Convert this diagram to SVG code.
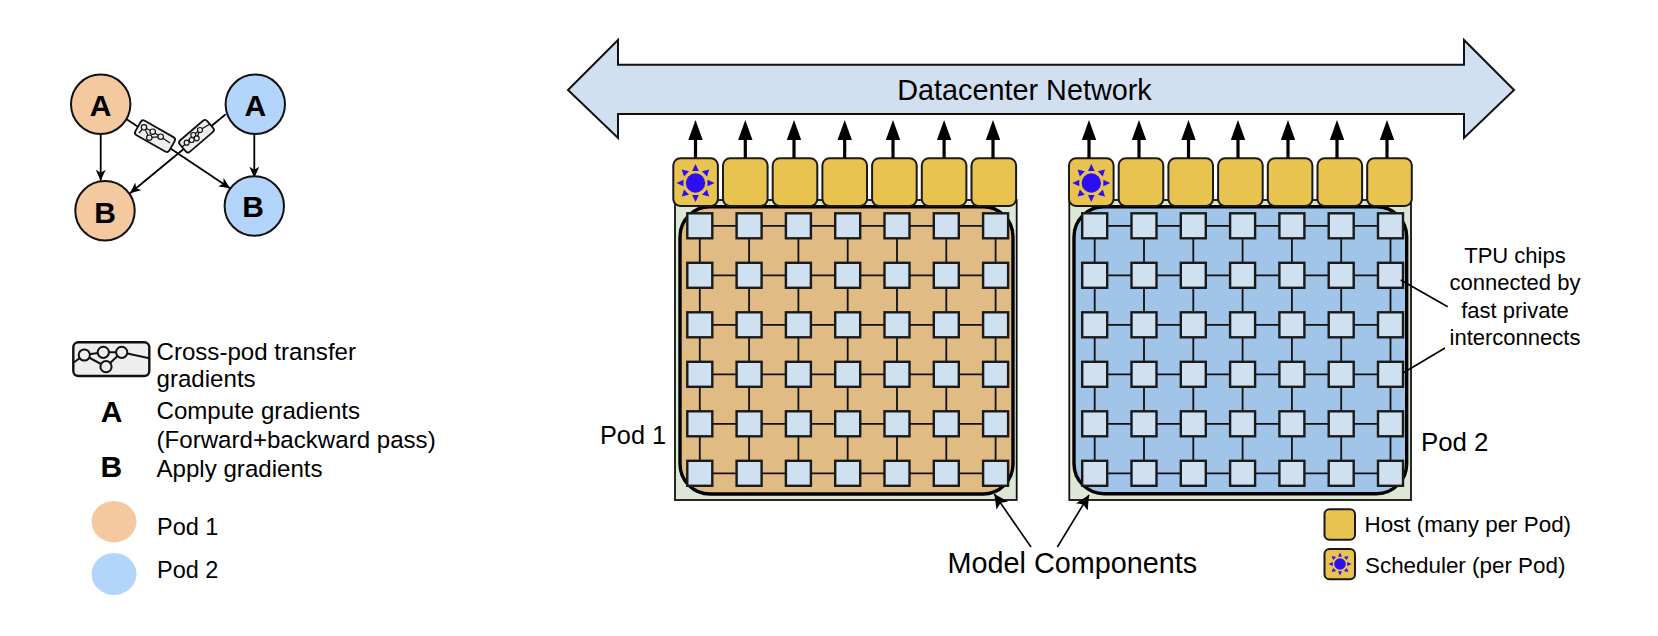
<svg xmlns="http://www.w3.org/2000/svg" width="1658" height="636" viewBox="0 0 1658 636">
<style>
text{font-family:"Liberation Sans",Arial,sans-serif;fill:#000}
.host{fill:#e9c350;stroke:#1a1a1a;stroke-width:2}
.chip{fill:#cfe0f0;stroke:#1a1a1a;stroke-width:2.4}
.lnk{stroke:#111;stroke-width:1.8;fill:none}
.ln{stroke:#000;stroke-width:1.6;fill:none}
.up{stroke:#000;stroke-width:3.2;fill:none}
.nc{stroke:#000;stroke-width:1.8}
.nt{font-weight:bold;font-size:30px;text-anchor:middle}
.lg{font-size:24.1px}
.lgp{font-size:23.5px}
.sun{fill:#2a0ff5}
.pill{fill:#eeeeee;stroke:#111;stroke-width:1.8}
.pl{fill:none;stroke:#111;stroke-width:1.2}
.pc{fill:#eee;stroke:#111;stroke-width:1.2}
.ic{fill:#eee;stroke:#111;stroke-width:2}
.tn{font-size:22px;text-anchor:middle}
.rl{font-size:22.4px}
</style>
<defs>
<marker id="ah" markerUnits="userSpaceOnUse" markerWidth="14" markerHeight="14" refX="11" refY="5" orient="auto"><path d="M0 0L11 5L0 10L3 5Z" fill="#000"/></marker>
<marker id="ahb" markerUnits="userSpaceOnUse" markerWidth="16" markerHeight="16" refX="14" refY="7" orient="auto"><path d="M0 0L14 7L0 14L3 7Z" fill="#000"/></marker>
<g id="sunG">
<circle r="9.7" class="sun"/>
<path class="sun" d="M0-19L3.3-12H-3.3ZM0 19L3.3 12H-3.3ZM-19 0L-12-3.3V3.3ZM19 0L12-3.3V3.3ZM-13.7-13.5L-6.5-11.8L-11.5-6.5ZM13.7-13.5L6.5-11.8L11.5-6.5ZM-13.7 13.5L-6.5 11.8L-11.5 6.5ZM13.7 13.5L6.5 11.8L11.5 6.5Z"/>
</g>
<g id="uparrow"><path d="M0 38V16" class="up"/><path d="M0 0L7.2 20H-7.2Z" fill="#000"/></g>
<rect id="hostbox" width="44.6" height="47.6" rx="7" class="host"/>
<rect id="chipbox" width="25" height="25" class="chip"/>
</defs>

<g id="connectors-left">
<path class="nc" d="M100.7 133V180.7" marker-end="url(#ah)"/>
<path class="nc" d="M254.3 133V177.7" marker-end="url(#ah)"/>
<path class="nc" d="M126.7 119.3L230 188.3" marker-end="url(#ah)"/>
<path class="nc" d="M225.7 114.3L130 193.3" marker-end="url(#ah)"/>
</g>

<g id="node-a1"><circle cx="100.7" cy="104.3" r="29.7" fill="#f5c9a0" stroke="#111" stroke-width="2"/><text class="nt" x="100.7" y="116">A</text></g>
<g id="node-a2"><circle cx="255.3" cy="104.3" r="29.7" fill="#b3d4fb" stroke="#111" stroke-width="2"/><text class="nt" x="255.3" y="116">A</text></g>
<g id="node-b1"><circle cx="105" cy="210.7" r="29.7" fill="#f5c9a0" stroke="#111" stroke-width="2"/><text class="nt" x="105" y="222.5">B</text></g>
<g id="node-b2"><circle cx="254.3" cy="206" r="29.7" fill="#b3d4fb" stroke="#111" stroke-width="2"/><text class="nt" x="253" y="217.3">B</text></g>

<g id="xfer-1">
<rect class="pill" x="-19.5" y="-8.3" width="39" height="16.6" rx="3" transform="translate(155,136.2) rotate(29.6)"/>
<path class="pl" d="M139 133L144 127.3L152.7 131.7L160.7 136.7L170 143M144 127.3L149.3 137.7L160.7 136.7"/>
<circle class="pc" cx="144" cy="127.3" r="2.7"/><circle class="pc" cx="152.7" cy="131.7" r="2.7"/><circle class="pc" cx="160.7" cy="136.7" r="2.7"/><circle class="pc" cx="149.3" cy="137.7" r="2.7"/>
</g>
<g id="xfer-2">
<rect class="pill" x="-18" y="-7.5" width="36" height="15" rx="3" transform="translate(196.5,136.2) rotate(-40.6)"/>
<path class="pl" d="M182 147L186.7 142.7L191.7 140L196.7 138.3L200 130L210 124M186.7 142.7L193.3 135L200 130"/>
<circle class="pc" cx="200" cy="130" r="2.5"/><circle class="pc" cx="193.3" cy="135" r="2.5"/><circle class="pc" cx="196.7" cy="138.3" r="2.5"/><circle class="pc" cx="191.7" cy="140" r="2.5"/><circle class="pc" cx="186.7" cy="142.7" r="2.5"/>
</g>

<g id="legend-left">
<g id="legend-xfer">
<rect x="73.3" y="342.3" width="76" height="33.7" rx="5" fill="#eee" stroke="#111" stroke-width="2.4"/>
<path d="M73.3 362.7L84.3 355L103.3 352.3H121.7L149.3 358.3M84.3 355L106 366.7L121.7 352.3" fill="none" stroke="#111" stroke-width="2"/>
<circle class="ic" cx="84.3" cy="355" r="5.6"/><circle class="ic" cx="103.3" cy="352.3" r="5.6"/><circle class="ic" cx="121.7" cy="352.3" r="5.6"/><circle class="ic" cx="106" cy="366.7" r="5.6"/>
</g>
<text class="lg" x="156.5" y="359.5">Cross-pod transfer</text>
<text class="lg" x="156.5" y="387">gradients</text>
<text class="nt" x="111.5" y="422">A</text>
<text class="lg" x="156.5" y="418.5">Compute gradients</text>
<text class="lg" x="156.5" y="447.7">(Forward+backward pass)</text>
<text class="nt" x="111.3" y="477.3">B</text>
<text class="lg" x="156.5" y="477.3">Apply gradients</text>
<ellipse cx="114" cy="521.7" rx="22.5" ry="20.7" fill="#f5c9a0"/>
<text class="lgp" x="157" y="535">Pod 1</text>
<ellipse cx="114" cy="574" rx="22.5" ry="21" fill="#b3d4fb"/>
<text class="lgp" x="157" y="578.3">Pod 2</text>
</g>

<g id="network">
<path d="M568 90L618 40V64.7H1464V40L1514 90L1464 138V114H618V138Z" fill="#d0e0f0" stroke="#111" stroke-width="2"/>
<text x="1024.5" y="100" font-size="28.8" text-anchor="middle">Datacenter Network</text>
</g>

<g id="pod1">
<rect x="675" y="200" width="341.7" height="300" fill="#dce8d5" stroke="#111" stroke-width="1.8"/>
<rect x="680" y="206.7" width="333" height="287.3" rx="30" fill="#e0bb84" stroke="#000" stroke-width="3.4"/>
<path class="lnk" d="M699.8 225.8H995.8M699.8 275.3H995.8M699.8 324.8H995.8M699.8 374.3H995.8M699.8 423.8H995.8M699.8 473.3H995.8M699.8 225.8V473.3M749.1 225.8V473.3M798.4 225.8V473.3M847.7 225.8V473.3M897 225.8V473.3M946.3 225.8V473.3M995.6 225.8V473.3"/>
</g>
<g id="pod1-chipgrid">
<use href="#chipbox" x="687.3" y="213.3"/><use href="#chipbox" x="736.6" y="213.3"/><use href="#chipbox" x="785.9" y="213.3"/><use href="#chipbox" x="835.2" y="213.3"/><use href="#chipbox" x="884.5" y="213.3"/><use href="#chipbox" x="933.8" y="213.3"/><use href="#chipbox" x="983.1" y="213.3"/>
<use href="#chipbox" x="687.3" y="262.8"/><use href="#chipbox" x="736.6" y="262.8"/><use href="#chipbox" x="785.9" y="262.8"/><use href="#chipbox" x="835.2" y="262.8"/><use href="#chipbox" x="884.5" y="262.8"/><use href="#chipbox" x="933.8" y="262.8"/><use href="#chipbox" x="983.1" y="262.8"/>
<use href="#chipbox" x="687.3" y="312.3"/><use href="#chipbox" x="736.6" y="312.3"/><use href="#chipbox" x="785.9" y="312.3"/><use href="#chipbox" x="835.2" y="312.3"/><use href="#chipbox" x="884.5" y="312.3"/><use href="#chipbox" x="933.8" y="312.3"/><use href="#chipbox" x="983.1" y="312.3"/>
<use href="#chipbox" x="687.3" y="361.8"/><use href="#chipbox" x="736.6" y="361.8"/><use href="#chipbox" x="785.9" y="361.8"/><use href="#chipbox" x="835.2" y="361.8"/><use href="#chipbox" x="884.5" y="361.8"/><use href="#chipbox" x="933.8" y="361.8"/><use href="#chipbox" x="983.1" y="361.8"/>
<use href="#chipbox" x="687.3" y="411.3"/><use href="#chipbox" x="736.6" y="411.3"/><use href="#chipbox" x="785.9" y="411.3"/><use href="#chipbox" x="835.2" y="411.3"/><use href="#chipbox" x="884.5" y="411.3"/><use href="#chipbox" x="933.8" y="411.3"/><use href="#chipbox" x="983.1" y="411.3"/>
<use href="#chipbox" x="687.3" y="460.8"/><use href="#chipbox" x="736.6" y="460.8"/><use href="#chipbox" x="785.9" y="460.8"/><use href="#chipbox" x="835.2" y="460.8"/><use href="#chipbox" x="884.5" y="460.8"/><use href="#chipbox" x="933.8" y="460.8"/><use href="#chipbox" x="983.1" y="460.8"/>
</g>
<g id="pod1-hosts">
<use href="#hostbox" x="673.3" y="158.3"/><use href="#hostbox" x="723" y="158.3"/><use href="#hostbox" x="772.7" y="158.3"/><use href="#hostbox" x="822.4" y="158.3"/><use href="#hostbox" x="872.1" y="158.3"/><use href="#hostbox" x="921.8" y="158.3"/><use href="#hostbox" x="971.5" y="158.3"/>
<use href="#sunG" x="695.5" y="183"/>
</g>
<g id="pod1-uplinks">
<use href="#uparrow" x="695.5" y="120"/><use href="#uparrow" x="745.3" y="120"/><use href="#uparrow" x="794" y="120"/><use href="#uparrow" x="844.7" y="120"/><use href="#uparrow" x="893" y="120"/><use href="#uparrow" x="944.1" y="120"/><use href="#uparrow" x="993" y="120"/>
</g>
<text id="pod1-label" x="600" y="444" font-size="25.3">Pod 1</text>

<g id="pod2">
<rect x="1069.3" y="200" width="341.7" height="300" fill="#dce8d5" stroke="#111" stroke-width="1.8"/>
<rect x="1074" y="206.7" width="332.7" height="287" rx="30" fill="#a0c5e8" stroke="#000" stroke-width="3.4"/>
<path class="lnk" d="M1094.7 225.8H1390.5M1094.7 275.3H1390.5M1094.7 324.8H1390.5M1094.7 374.3H1390.5M1094.7 423.8H1390.5M1094.7 473.3H1390.5M1094.7 225.8V473.3M1144 225.8V473.3M1193.3 225.8V473.3M1242.6 225.8V473.3M1291.9 225.8V473.3M1341.2 225.8V473.3M1390.5 225.8V473.3"/>
</g>
<g id="pod2-chipgrid">
<use href="#chipbox" x="1082.2" y="213.3"/><use href="#chipbox" x="1131.5" y="213.3"/><use href="#chipbox" x="1180.8" y="213.3"/><use href="#chipbox" x="1230.1" y="213.3"/><use href="#chipbox" x="1279.4" y="213.3"/><use href="#chipbox" x="1328.7" y="213.3"/><use href="#chipbox" x="1378" y="213.3"/>
<use href="#chipbox" x="1082.2" y="262.8"/><use href="#chipbox" x="1131.5" y="262.8"/><use href="#chipbox" x="1180.8" y="262.8"/><use href="#chipbox" x="1230.1" y="262.8"/><use href="#chipbox" x="1279.4" y="262.8"/><use href="#chipbox" x="1328.7" y="262.8"/><use href="#chipbox" x="1378" y="262.8"/>
<use href="#chipbox" x="1082.2" y="312.3"/><use href="#chipbox" x="1131.5" y="312.3"/><use href="#chipbox" x="1180.8" y="312.3"/><use href="#chipbox" x="1230.1" y="312.3"/><use href="#chipbox" x="1279.4" y="312.3"/><use href="#chipbox" x="1328.7" y="312.3"/><use href="#chipbox" x="1378" y="312.3"/>
<use href="#chipbox" x="1082.2" y="361.8"/><use href="#chipbox" x="1131.5" y="361.8"/><use href="#chipbox" x="1180.8" y="361.8"/><use href="#chipbox" x="1230.1" y="361.8"/><use href="#chipbox" x="1279.4" y="361.8"/><use href="#chipbox" x="1328.7" y="361.8"/><use href="#chipbox" x="1378" y="361.8"/>
<use href="#chipbox" x="1082.2" y="411.3"/><use href="#chipbox" x="1131.5" y="411.3"/><use href="#chipbox" x="1180.8" y="411.3"/><use href="#chipbox" x="1230.1" y="411.3"/><use href="#chipbox" x="1279.4" y="411.3"/><use href="#chipbox" x="1328.7" y="411.3"/><use href="#chipbox" x="1378" y="411.3"/>
<use href="#chipbox" x="1082.2" y="460.8"/><use href="#chipbox" x="1131.5" y="460.8"/><use href="#chipbox" x="1180.8" y="460.8"/><use href="#chipbox" x="1230.1" y="460.8"/><use href="#chipbox" x="1279.4" y="460.8"/><use href="#chipbox" x="1328.7" y="460.8"/><use href="#chipbox" x="1378" y="460.8"/>
</g>
<g id="pod2-hosts">
<use href="#hostbox" x="1069" y="158.3"/><use href="#hostbox" x="1118.7" y="158.3"/><use href="#hostbox" x="1168.4" y="158.3"/><use href="#hostbox" x="1218.1" y="158.3"/><use href="#hostbox" x="1267.8" y="158.3"/><use href="#hostbox" x="1317.5" y="158.3"/><use href="#hostbox" x="1367.2" y="158.3"/>
<use href="#sunG" x="1091.3" y="183"/>
</g>
<g id="pod2-uplinks">
<use href="#uparrow" x="1089" y="120"/><use href="#uparrow" x="1139" y="120"/><use href="#uparrow" x="1188.5" y="120"/><use href="#uparrow" x="1238" y="120"/><use href="#uparrow" x="1288" y="120"/><use href="#uparrow" x="1337" y="120"/><use href="#uparrow" x="1387" y="120"/>
</g>
<text id="pod2-label" x="1421" y="451" font-size="25.8">Pod 2</text>

<g id="connectors">
<path class="ln" d="M1400.7 280L1447.7 306.7"/>
<path class="ln" d="M1403 373L1445 348"/>
<path class="ln" d="M1031 547L994.3 494" marker-end="url(#ahb)"/>
<path class="ln" d="M1057.4 547L1089 495" marker-end="url(#ahb)"/>
</g>

<g id="tpu-note">
<text class="tn" x="1515" y="262.7">TPU chips</text>
<text class="tn" x="1515" y="290">connected by</text>
<text class="tn" x="1515" y="317.5">fast private</text>
<text class="tn" x="1515" y="345">interconnects</text>
</g>
<text id="model-label" x="947.5" y="573" font-size="28.8">Model Components</text>

<g id="legend-right">
<rect class="host" x="1324.5" y="509.3" width="30.5" height="30.5" rx="5"/>
<text class="rl" x="1364.5" y="531.7">Host (many per Pod)</text>
<rect class="host" x="1324.5" y="549" width="30.5" height="30.3" rx="5"/>
<use href="#sunG" transform="translate(1340,564) scale(.6)"/>
<text class="rl" x="1365" y="573.3">Scheduler (per Pod)</text>
</g>
</svg>
